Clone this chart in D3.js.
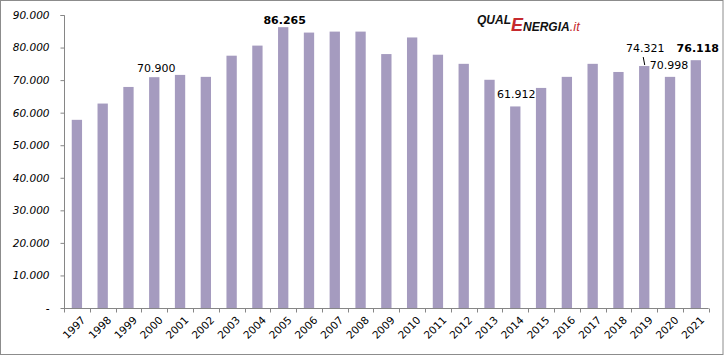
<!DOCTYPE html>
<html><head><meta charset="utf-8">
<script src="https://cdn.jsdelivr.net/npm/d3@7/dist/d3.min.js"></script>
<style>
html,body{margin:0;padding:0;background:#fff;}
svg{display:block;}
</style></head>
<body>
<svg id="c" width="724" height="356"></svg>
<script>
const years = ["1997","1998","1999","2000","2001","2002","2003","2004","2005","2006","2007","2008","2009","2010","2011","2012","2013","2014","2015","2016","2017","2018","2019","2020","2021"];
const values = [57.8,62.8,67.9,70.9,71.6,71.0,77.5,80.6,86.265,84.6,84.9,84.9,78.0,83.1,77.8,75.0,70.1,61.912,67.6,71.0,75.0,72.5,74.321,70.998,76.118];
const yTicks = [0,10,20,30,40,50,60,70,80,90];
const yTickLabels = ["-","10.000","20.000","30.000","40.000","50.000","60.000","70.000","80.000","90.000"];
const labelYears = ["2000","2005","2014","2019","2020","2021"];
const boldLabelYears = ["2005","2021"];

const svg = d3.select("#c");
const x = d3.scaleBand().domain(years).range([64, 708.7]).paddingInner(0.6).paddingOuter(0.3);
const y = d3.scaleLinear().domain([0, 90]).range([308, 15]);

// border
svg.append("rect").attr("x",0.5).attr("y",0.5).attr("width",722.5).attr("height",354)
  .attr("fill","none").attr("stroke","#8c8c8c").attr("stroke-width",1);

// bars
svg.append("g").selectAll("rect").data(years).join("rect")
  .attr("x", d => x(d)).attr("width", x.bandwidth())
  .attr("y", (d,i) => y(values[i])).attr("height", (d,i) => y(0) - y(values[i]))
  .attr("fill", "#a59bbf");

// y axis
const yAxis = d3.axisLeft(y).tickValues(yTicks).tickSize(4).tickPadding(11)
  .tickFormat((v,i) => yTickLabels[i]);
const gy = svg.append("g").attr("transform","translate(64.5,0)").call(yAxis);
gy.selectAll("text")
  .attr("font-family","DejaVu Sans").attr("font-style","italic").attr("font-size","10.5px").attr("fill","#000");
gy.select(".domain").attr("stroke","#868686").attr("d","M-4,15.5H0V308.5");
gy.selectAll(".tick line").attr("stroke","#868686");

// x axis
const gx = svg.append("g").attr("transform","translate(0,308.5)");
gx.append("line").attr("x1",64).attr("x2",708.7).attr("y1",0).attr("y2",0).attr("stroke","#868686");
const edges = d3.range(years.length + 1).map(i => x.range()[0] + i * (x.range()[1] - x.range()[0]) / years.length);
gx.selectAll("line.tk").data(edges).join("line").attr("class","tk")
  .attr("x1", d => Math.round(d)+0.5).attr("x2", d => Math.round(d)+0.5).attr("y1",0).attr("y2",4).attr("stroke","#868686");
gx.selectAll("text").data(years).join("text")
  .attr("transform", d => `translate(${x(d)+x.bandwidth()/2+4},${7}) rotate(-45)`)
  .attr("text-anchor","end").attr("dy","0.7em")
  .attr("font-family","DejaVu Sans").attr("font-size","10.5px").attr("fill","#000")
  .text(d => d);

// data labels
const lblOffset = {"2000":[2,-5],"2005":[1.5,-3],"2014":[1,-8],"2019":[1,-14],"2020":[-1,-8],"2021":[2,-8]};
const gl = svg.append("g");
labelYears.forEach(yr => {
  const i = years.indexOf(yr);
  const cx = x(yr) + x.bandwidth()/2 + lblOffset[yr][0];
  const by = y(values[i]) + lblOffset[yr][1];
  gl.append("text").attr("x",cx).attr("y",by).attr("text-anchor","middle")
    .attr("font-family","DejaVu Sans").attr("font-size","11px")
    .attr("font-weight", boldLabelYears.includes(yr) ? "bold" : "normal")
    .attr("fill","#000").text(values[i].toFixed(3));
});
// leader line for 2019
{
  const i = years.indexOf("2019");
  const cx = x("2019") + x.bandwidth()/2;
  const top = y(values[i]);
  gl.append("line").attr("x1",cx-1).attr("y1",top-9).attr("x2",cx+0.5).attr("y2",top-1)
    .attr("stroke","#000").attr("stroke-width",1);
}

// logo
const logo = svg.append("text").attr("x",477).attr("y",24)
  .attr("font-family","Liberation Sans").attr("font-weight","bold").attr("font-style","italic");
logo.append("tspan").attr("font-size","12px").attr("fill","#111").text("QUAL");
logo.append("tspan").attr("font-size","18px").attr("fill","#c62a2f").attr("dy",7).text("E");
logo.append("tspan").attr("font-size","12px").attr("fill","#111").text("NERGIA");
logo.append("tspan").attr("font-size","13px").attr("font-weight","normal").attr("fill","#c62a2f").text(".it");
</script>
</body></html>
